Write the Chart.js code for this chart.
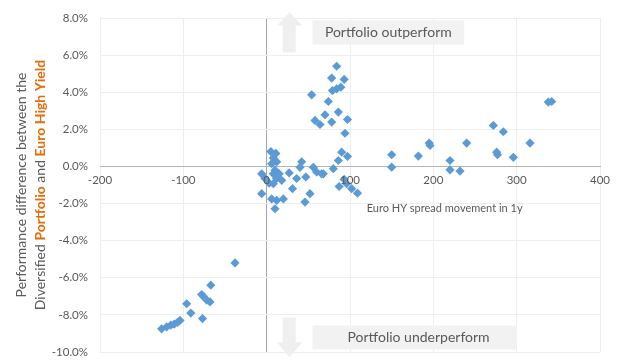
<!DOCTYPE html>
<html><head><meta charset="utf-8">
<script src="https://cdn.jsdelivr.net/npm/chart.js@4.4.0/dist/chart.umd.min.js"></script>
<style>html,body{margin:0;padding:0;background:#fff;overflow:hidden}</style>
</head><body>
<canvas id="c" width="619" height="362"></canvas>
<script>
// Euro HY spread movement in 1y (bp)
const spreadMove = [
  -38,-67,-76,-72,-68,-78,-96,-91,-77,-126,-120,-115,-111,-107,-104,
  5,11,6,12,8,42,40,56,60,66,-6,-2,8,15,12,8,18,27,36,47,31,-6,6,12,20,10,52,46,10,3,
  90,97,86,80,68,87,96,102,109,93,
  84,78,93,89,84,79,54,74,70,86,58,64,78,97,94,
  150,150,182,195,196,220,220,232,240,272,284,276,277,296,316,338,342
];
// Performance difference (%)
const perfDiff = [
  -5.2,-6.4,-7.0,-7.2,-7.3,-6.9,-7.4,-7.9,-8.2,-8.75,-8.65,-8.55,-8.5,-8.4,-8.3,
  0.8,0.7,0.15,0.25,0.45,0.25,-0.05,-0.05,-0.3,-0.4,-0.4,-0.65,-0.4,-0.4,-0.65,-0.93,-0.75,-0.35,-0.65,-0.57,-1.2,-1.47,-1.75,-1.83,-1.75,-2.28,-1.47,-1.92,-0.2,-0.9,
  0.77,0.54,0.32,-0.12,-0.4,-1.08,-0.93,-1.2,-1.44,-0.7,
  5.4,4.76,4.69,4.27,4.18,4.09,3.86,3.5,2.78,2.93,2.48,2.26,2.39,2.53,1.79,
  0.63,-0.04,0.56,1.26,1.13,0.32,-0.18,-0.25,1.26,2.21,1.87,0.77,0.63,0.49,1.26,3.47,3.5
];
const xTickValues = [-200,-100,0,100,200,300,400];
const yTickValues = [-10,-8,-6,-4,-2,0,2,4,6,8];
const xAxisTitle = "Euro HY spread movement in 1y";
const yTitleLine1 = "Performance difference between the";
const yTitleLine2 = [["Diversified ", false], ["Portfolio", true], [" and ", false], ["Euro High Yield", true]];
const noteUp = "Portfolio outperform";
const noteDown = "Portfolio underperform";

const GRAY_TXT = '#595959';
const ORANGE = '#e46c0a';
const FONT = 'Lato';

const points = spreadMove.map((x, i) => ({x, y: perfDiff[i]}));

const overlay = {
  id: 'overlay',
  afterDraw(chart) {
    const ctx = chart.ctx;
    const xs = chart.scales.x, ys = chart.scales.y;
    const px = v => xs.getPixelForValue(v), py = v => ys.getPixelForValue(v);
    ctx.save();
    ctx.fillStyle = GRAY_TXT;
    ctx.font = '11px ' + FONT;
    ctx.textBaseline = 'middle';
    ctx.textAlign = 'left';
    ctx.fillText(xAxisTitle, px(120), py(-2.26));

    ctx.fillStyle = '#efefef';
    ctx.beginPath();
    ctx.moveTo(px(27.5), py(8.31));
    ctx.lineTo(px(42.6), py(7.6));
    ctx.lineTo(px(34.8), py(7.6));
    ctx.lineTo(px(34.8), py(6.14));
    ctx.lineTo(px(19.2), py(6.14));
    ctx.lineTo(px(19.2), py(7.6));
    ctx.lineTo(px(12.6), py(7.6));
    ctx.closePath();
    ctx.fill();
    ctx.beginPath();
    ctx.moveTo(px(27.5), py(-10.29));
    ctx.lineTo(px(42.6), py(-9.48));
    ctx.lineTo(px(34.8), py(-9.48));
    ctx.lineTo(px(34.8), py(-8.14));
    ctx.lineTo(px(19.2), py(-8.14));
    ctx.lineTo(px(19.2), py(-9.48));
    ctx.lineTo(px(12.6), py(-9.48));
    ctx.closePath();
    ctx.fill();

    ctx.fillStyle = '#f2f2f2';
    const b1 = [px(55), py(7.87), px(237), py(6.57)];
    ctx.fillRect(b1[0], b1[1], b1[2]-b1[0], b1[3]-b1[1]);
    const b2 = [px(55), py(-8.57), px(300), py(-9.86)];
    ctx.fillRect(b2[0], b2[1], b2[2]-b2[0], b2[3]-b2[1]);
    ctx.fillStyle = GRAY_TXT;
    ctx.font = '14px ' + FONT;
    ctx.textAlign = 'center';
    ctx.fillText(noteUp, (b1[0]+b1[2])/2, (b1[1]+b1[3])/2);
    ctx.fillText(noteDown, (b2[0]+b2[2])/2 + 4, (b2[1]+b2[3])/2);

    const cy = (chart.chartArea.top + chart.chartArea.bottom) / 2;
    ctx.save();
    ctx.translate(21, cy);
    ctx.rotate(-Math.PI/2);
    ctx.textAlign = 'center';
    ctx.fillStyle = GRAY_TXT;
    ctx.font = '14px ' + FONT;
    ctx.fillText(yTitleLine1, 0, 0);
    ctx.restore();
    ctx.save();
    ctx.translate(40, cy);
    ctx.rotate(-Math.PI/2);
    ctx.textAlign = 'left';
    let total = 0;
    yTitleLine2.forEach(([t, b]) => { ctx.font = (b ? 'bold ' : '') + '14px ' + FONT; total += ctx.measureText(t).width; });
    let xx = -total/2;
    yTitleLine2.forEach(([t, b]) => {
      ctx.font = (b ? 'bold ' : '') + '14px ' + FONT;
      ctx.fillStyle = b ? ORANGE : GRAY_TXT;
      ctx.fillText(t, xx, 0);
      xx += ctx.measureText(t).width;
    });
    ctx.restore();
    ctx.restore();
  }
};

new Chart(document.getElementById('c'), {
  type: 'scatter',
  data: { datasets: [{
    data: points,
    backgroundColor: '#5b9bd5',
    borderColor: '#5b9bd5',
    borderWidth: 0,
    pointStyle: 'rectRot',
    pointRadius: 4.6,
    pointHoverRadius: 4.6
  }]},
  options: {
    responsive: false,
    devicePixelRatio: 1,
    animation: false,
    layout: { padding: { left: 0, right: 19, top: 18, bottom: 10 } },
    plugins: { legend: { display: false }, tooltip: { enabled: false } },
    scales: {
      x: {
        type: 'linear',
        position: { y: 0 },
        min: -200, max: 400,
        afterBuildTicks: s => { s.ticks = xTickValues.map(v => ({value: v})); },
        afterFit: s => { s.height = 0; s.paddingTop = 0; s.paddingBottom = 0; },
        grid: { drawTicks: false, color: c => (c.tick && c.tick.value === 0) ? '#a6a6a6' : '#eeeeee' },
        border: { display: true, color: '#b4b4b4' },
        ticks: { z: 1, padding: 7, color: GRAY_TXT, font: { family: FONT, size: 11.5 }, maxRotation: 0, callback: v => String(v) }
      },
      y: {
        type: 'linear',
        position: 'left',
        min: -10, max: 8,
        afterBuildTicks: s => { s.ticks = yTickValues.map(v => ({value: v})); },
        afterFit: s => { s.width = 100; s.paddingTop = 0; s.paddingBottom = 0; },
        grid: { drawTicks: false, color: c => (c.tick && c.tick.value === 0) ? 'rgba(0,0,0,0)' : '#eeeeee' },
        border: { display: false },
        ticks: { padding: 12, color: GRAY_TXT, font: { family: FONT, size: 11.5 }, callback: v => v.toFixed(1) + '%' }
      }
    }
  },
  plugins: [overlay]
});
</script>
</body></html>
